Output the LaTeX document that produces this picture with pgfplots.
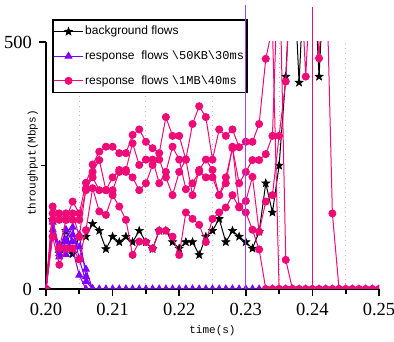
\documentclass[border=0pt]{standalone}
\usepackage{fontspec}
\setmainfont{Liberation Serif}
\newfontfamily\sansf{Liberation Sans}
\newfontfamily\monof{Liberation Mono}
\usepackage{pgfplots}
\pgfplotsset{compat=1.18}
\usetikzlibrary{plotmarks}
\definecolor{cpur}{RGB}{128,0,255}
\definecolor{cpink}{RGB}{240,10,120}
\pgfdeclareplotmark{fstar}{%
  \pgfpathmoveto{\pgfpointpolar{90}{1\pgfplotmarksize}}%
  \pgfpathlineto{\pgfpointpolar{126}{0.42\pgfplotmarksize}}%
  \pgfpathlineto{\pgfpointpolar{162}{1\pgfplotmarksize}}%
  \pgfpathlineto{\pgfpointpolar{198}{0.42\pgfplotmarksize}}%
  \pgfpathlineto{\pgfpointpolar{234}{1\pgfplotmarksize}}%
  \pgfpathlineto{\pgfpointpolar{270}{0.42\pgfplotmarksize}}%
  \pgfpathlineto{\pgfpointpolar{306}{1\pgfplotmarksize}}%
  \pgfpathlineto{\pgfpointpolar{342}{0.42\pgfplotmarksize}}%
  \pgfpathlineto{\pgfpointpolar{18}{1\pgfplotmarksize}}%
  \pgfpathlineto{\pgfpointpolar{54}{0.42\pgfplotmarksize}}%
  \pgfpathclose\pgfusepathqfillstroke}
\begin{document}
\begin{tikzpicture}
\pgfplotsset{
  mybase/.style={scale only axis, width=166.5pt, height=123.5pt,
    xmin=0.20, xmax=0.25, ymin=0, ymax=500},
  blk/.style={black, line width=0.5pt, mark=fstar, mark size=2.1pt, mark options={solid, fill=black, line width=0.3pt}},
  pur/.style={cpur, line width=0.5pt, mark=triangle*, mark size=1.9pt, mark options={solid, fill=cpur}},
  pnk/.style={cpink, line width=0.5pt, mark=*, mark size=1.75pt, mark options={solid, fill=cpink}},
}
\begin{axis}[mybase,
  axis x line=bottom, axis y line=left,
  axis line style={line width=1pt, -},
  xtick={0.20,0.21,0.22,0.23,0.24,0.25},
  xticklabels={0.20,0.21,0.22,0.23,0.24,0.25},
  minor xtick={0.205,0.215,0.225,0.235,0.245},
  ytick={0,500}, yticklabels={0,500}, minor ytick={250},
  tick style={black, line width=0.8pt},
  major tick length=3.5pt, minor tick length=2.5pt,
  tick align=outside,
  xminorgrids, minor grid style={dotted, gray!55, line width=0.4pt},
  ticklabel style={font=\fontsize{9.25}{10}\selectfont},
  xlabel={time(s)}, ylabel={throughput(Mbps)},
  label style={font=\monof\fontsize{5.5}{6.5}\selectfont},
  xlabel style={at={(axis description cs:0.5,-0.17)}, anchor=center},
  ylabel style={at={(axis description cs:-0.04,0.51)}, anchor=center},
  clip marker paths=true,
  legend cell align=left,
  legend style={at={(axis description cs:0.018,1.093)}, anchor=north west,
    draw=black, line width=0.8pt, fill=white,
    font=\sansf\fontsize{6}{7}\selectfont,
    inner xsep=0.5pt, inner ysep=2pt, row sep=4.5pt,
    nodes={inner sep=1pt, text height=4.5pt, text depth=1.3pt}},
  legend image code/.code={\draw[mark repeat=2,mark phase=2] plot coordinates {(0cm,0cm)(0.25cm,0cm)(0.5cm,0cm)};},
]
% background flows
\addplot[blk] coordinates {(0.200,0)(0.201,140)(0.202,72)(0.203,118)(0.204,71)(0.205,106)(0.206,106)(0.207,132)(0.208,118)(0.209,81)(0.210,106)(0.211,95)(0.212,106)(0.213,95)(0.214,118)(0.215,95)(0.216,81)(0.217,118)(0.218,118)(0.219,95)(0.220,82)(0.221,95)(0.222,95)(0.223,69)(0.224,106)(0.225,118)(0.226,142)(0.227,95)(0.228,118)(0.229,106)(0.230,95)(0.231,82)(0.232,116)(0.233,214)(0.234,155)(0.235,250)(0.236,430)(0.237,700)(0.238,418)(0.239,700)(0.240,700)(0.241,430)(0.242,700)};
\addlegendentry{background flows}
% response flows 50KB
\addplot[pur] coordinates {(0.200,0)(0.201,135)(0.202,80)(0.203,120)(0.204,95)(0.205,110)(0.206,25)(0.207,0)(0.208,0)(0.209,0)(0.210,0)(0.211,0)(0.212,0)(0.213,0)(0.214,0)(0.215,0)(0.216,0)(0.217,0)(0.218,0)(0.219,0)(0.220,0)(0.221,0)(0.222,0)(0.223,0)(0.224,0)(0.225,0)(0.226,0)(0.227,0)(0.228,0)(0.229,0)(0.230,0)(0.231,0)(0.232,0)(0.233,0)(0.234,0)(0.235,0)(0.236,0)(0.237,0)(0.238,0)(0.239,0)(0.240,0)(0.241,0)(0.242,0)(0.243,0)(0.244,0)(0.245,0)(0.246,0)(0.247,0)(0.248,0)(0.249,0)(0.250,0)};
\addlegendentry{response\ \ flows \monof\textbackslash 50KB\textbackslash 30ms}
\addplot[pur, forget plot] coordinates {(0.200,0)(0.201,120)(0.202,65)(0.203,100)(0.204,125)(0.205,60)(0.206,15)(0.207,0)};
\addplot[pur, forget plot] coordinates {(0.200,0)(0.201,110)(0.202,90)(0.203,70)(0.204,110)(0.205,85)(0.206,40)(0.207,0)};
\addplot[pur, forget plot] coordinates {(0.200,0)(0.201,140)(0.202,72)(0.203,95)(0.204,80)(0.205,28)(0.206,0)};
% response flows 1MB
\addplot[pnk] coordinates {(0.200,0)(0.201,167)(0.202,153)(0.203,140)(0.204,177)(0.205,153)(0.206,215)(0.207,252)(0.208,278)(0.209,288)(0.210,288)(0.211,275)(0.212,275)(0.213,312)(0.214,323)(0.215,298)(0.216,285)(0.217,275)(0.218,348)(0.219,310)(0.220,310)(0.221,262)(0.222,334)(0.223,370)(0.224,348)(0.225,262)(0.226,323)(0.227,310)(0.228,323)(0.229,287)(0.230,298)(0.231,298)(0.232,334)(0.233,466)(0.234,530)(0.235,0)};
\addlegendentry{response\ \ flows \monof\textbackslash 1MB\textbackslash 40ms}
\addplot[pnk, forget plot] coordinates {(0.200,0)(0.201,153)(0.202,140)(0.203,153)(0.204,140)(0.205,140)(0.206,200)(0.207,237)(0.208,261)(0.209,200)(0.210,226)(0.211,241)(0.212,241)(0.213,295)(0.214,251)(0.215,262)(0.216,262)(0.217,214)(0.218,237)(0.219,288)(0.220,262)(0.221,202)(0.222,214)(0.223,237)(0.224,226)(0.225,226)(0.226,190)(0.227,226)(0.228,285)(0.229,214)(0.230,237)(0.231,261)(0.232,261)(0.233,273)(0.234,310)(0.235,700)(0.236,59)(0.237,0)};
\addplot[pnk, forget plot] coordinates {(0.200,0)(0.201,140)(0.202,83)(0.203,140)(0.204,153)(0.205,106)(0.206,204)(0.207,226)(0.208,200)(0.209,200)(0.210,200)(0.211,237)(0.212,237)(0.213,226)(0.214,200)(0.215,214)(0.216,251)(0.217,262)(0.218,226)(0.219,190)(0.220,237)(0.221,262)(0.222,190)(0.223,241)(0.224,262)(0.225,241)(0.226,190)(0.227,214)(0.228,288)(0.229,167)(0.230,178)(0.231,227)(0.232,116)(0.233,177)(0.234,190)(0.235,310)(0.236,420)(0.237,700)(0.238,700)(0.239,430)(0.240,700)(0.241,467)(0.242,700)(0.243,153)(0.244,0)};
\addplot[pnk, forget plot] coordinates {(0.200,0)(0.201,106)(0.202,49)(0.203,82)(0.204,82)(0.205,60)(0.206,119)(0.207,204)(0.208,157)(0.209,150)(0.210,190)(0.211,167)(0.212,140)(0.213,69)(0.214,96)(0.215,95)(0.216,82)(0.217,118)(0.218,118)(0.219,106)(0.220,69)(0.221,155)(0.222,142)(0.223,130)(0.224,95)(0.225,142)(0.226,155)(0.227,165)(0.228,190)(0.229,165)(0.230,155)(0.231,120)(0.232,80)(0.233,0)(0.234,0)(0.235,0)(0.236,0)(0.237,0)(0.238,0)(0.239,0)(0.240,0)(0.241,0)(0.242,0)(0.243,0)(0.244,0)(0.245,0)(0.246,0)(0.247,0)(0.248,0)(0.249,0)(0.250,0)};
\end{axis}
\begin{axis}[mybase, hide axis, clip=false]
\addplot[cpur!75, line width=0.6pt] coordinates {(0.230,0)(0.230,575)};
\addplot[cpink, line width=0.6pt] coordinates {(0.240,0)(0.240,571)};
\end{axis}
\pgfresetboundingbox
\useasboundingbox (-23pt,-26pt) rectangle (174pt,144.5pt);
\end{tikzpicture}
\end{document}
